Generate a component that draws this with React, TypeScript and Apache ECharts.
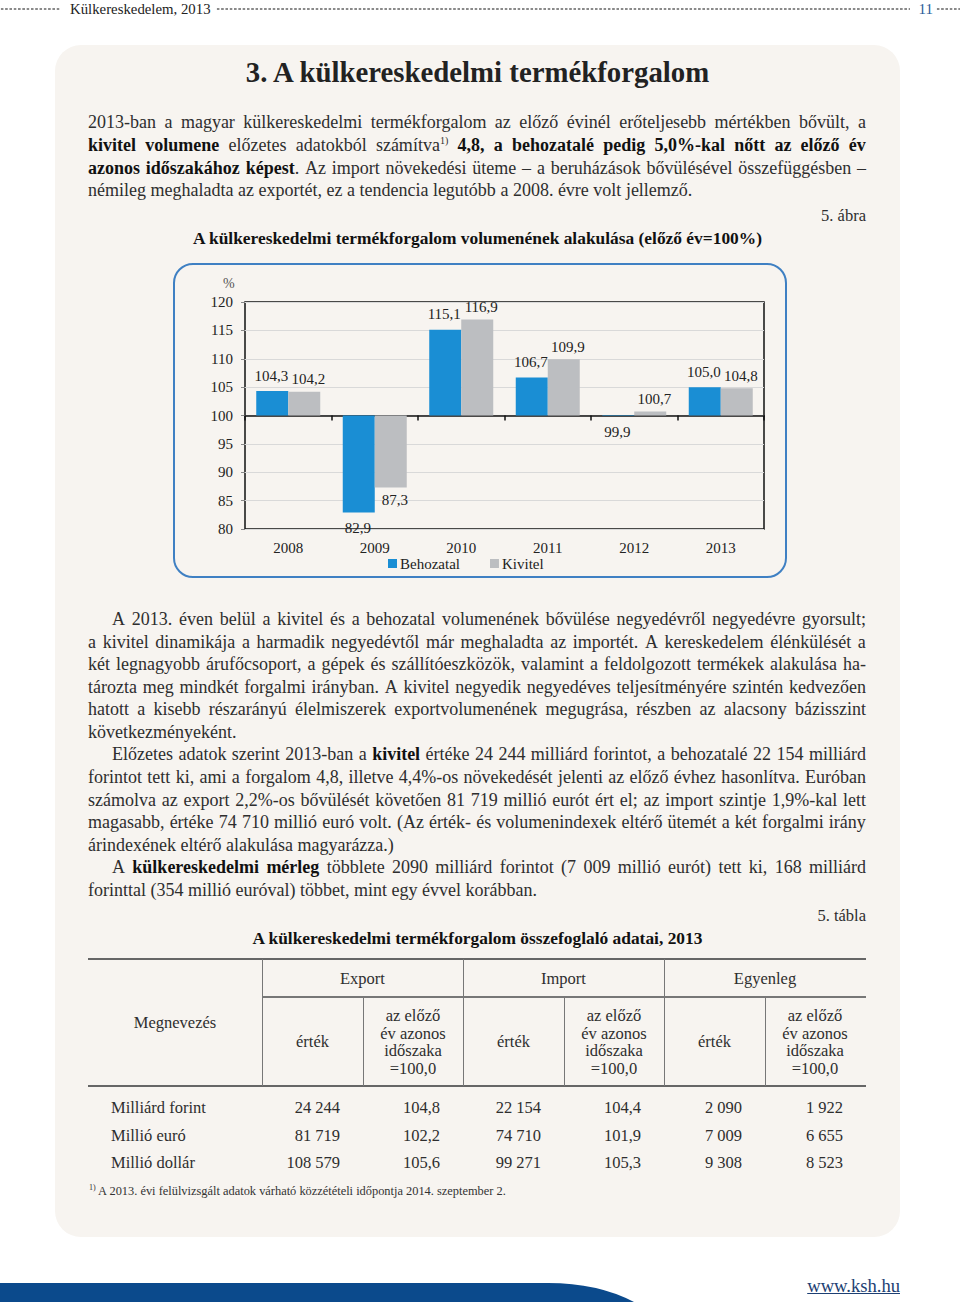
import React, { useEffect, useRef } from "react";
import * as echarts from "echarts";

// ---------- chart data ----------
const years = ["2008", "2009", "2010", "2011", "2012", "2013"];
const behozatal = [104.3, 82.9, 115.1, 106.7, 99.9, 105.0];
const kivitel = [104.2, 87.3, 116.9, 109.9, 100.7, 104.8];
const BASE = 100;
const yMin = 80;
const yMax = 120;
const yStep = 5;

// ---------- table data ----------
const rowLabels = ["Milliárd forint", "Millió euró", "Millió dollár"];
const exportValue = ["24 244", "81 719", "108 579"];
const exportIndex = ["104,8", "102,2", "105,6"];
const importValue = ["22 154", "74 710", "99 271"];
const importIndex = ["104,4", "101,9", "105,3"];
const balanceValue = ["2 090", "7 009", "9 308"];
const balanceIndex = ["1 922", "6 655", "8 523"];

const SERIF = "'Liberation Serif', 'DejaVu Serif', serif";
const TEXT = "#2e2e2e";
const FS = 18.0;
const TFS = 16.5;

const fmt = (v: number) => v.toFixed(1).replace(".", ",");

function Chart() {
  const ref = useRef<HTMLDivElement>(null);
  useEffect(() => {
    const chart = echarts.init(ref.current!, null, { renderer: "svg" });
    const mk = (arr: number[]) =>
      arr.map((v) => ({
        value: +(v - BASE).toFixed(2),
        label: { position: v < BASE ? "bottom" : "top" },
      }));
    const labelCfg = (arr: number[], dx: number, dist: number) => ({
      show: true,
      distance: dist,
      offset: [dx, 0],
      fontFamily: SERIF,
      fontSize: 15,
      color: "#222",
      formatter: (p: any) => fmt(arr[p.dataIndex]),
    });
    chart.setOption({
      animation: false,
      backgroundColor: "transparent",
      textStyle: { fontFamily: SERIF },
      grid: {
        left: 72,
        right: 23,
        top: 39,
        bottom: 49,
        show: true,
        borderColor: "#111",
        borderWidth: 1.5,
        backgroundColor: "transparent",
      },
      legend: {
        left: 210,
        top: 288,
        itemWidth: 9,
        itemHeight: 9,
        itemGap: 30,
        icon: "rect",
        textStyle: { fontFamily: SERIF, fontSize: 15, color: "#222", padding: [0, 0, 0, -2] },
        data: ["Behozatal", "Kivitel"],
      },
      graphic: [
        {
          type: "text",
          left: 50,
          top: 13,
          style: { text: "%", fontFamily: SERIF, fontSize: 14, fill: "#555" },
        },
      ],
      xAxis: [
        {
          type: "category",
          data: years,
          axisLine: { onZero: true, lineStyle: { color: "#111", width: 1.5 } },
          axisTick: { show: true, interval: 0, length: 5, lineStyle: { color: "#111", width: 1.5 } },
          axisLabel: { show: false },
        },
        {
          type: "category",
          data: years,
          position: "bottom",
          axisLine: { show: false },
          axisTick: { show: false },
          axisLabel: { fontFamily: SERIF, fontSize: 15, color: "#222", margin: 11 },
        },
      ],
      yAxis: {
        type: "value",
        min: yMin - BASE,
        max: yMax - BASE,
        interval: yStep,
        axisLine: { show: false },
        axisTick: { show: true, length: 4, lineStyle: { color: "#888" } },
        splitLine: { lineStyle: { color: "#d9d9d9", width: 1 } },
        axisLabel: {
          fontFamily: SERIF,
          fontSize: 15,
          color: "#222",
          margin: 12,
          formatter: (v: number) => String(Math.round(v + BASE)),
        },
      },
      series: [
        {
          name: "Behozatal",
          type: "bar",
          xAxisIndex: 0,
          barWidth: 32,
          barGap: "0%",
          itemStyle: { color: "#1a8ed4" },
          label: labelCfg(behozatal, -1, 8),
          data: mk(behozatal),
        },
        {
          name: "Kivitel",
          type: "bar",
          xAxisIndex: 0,
          barWidth: 32,
          barGap: "0%",
          itemStyle: { color: "#bcbec1" },
          label: labelCfg(kivitel, 4, 5),
          data: mk(kivitel),
        },
      ],
    });
    return () => chart.dispose();
  }, []);
  return (
    <div
      ref={ref}
      style={{ position: "absolute", left: 173, top: 263, width: 614, height: 315 }}
    />
  );
}

// parse "**bold**" and "^1)" superscript markers into word spans
function words(s: string) {
  let bold = false;
  const out: React.ReactNode[] = [];
  s.split(" ")
    .filter((w) => w.length > 0)
    .forEach((tok, i) => {
      const parts = tok.split("**");
      const spans: React.ReactNode[] = [];
      parts.forEach((p, j) => {
        if (j > 0) bold = !bold;
        if (!p) return;
        const [main, sup] = p.split("^");
        spans.push(
          <span key={j} style={bold ? { fontWeight: "bold", color: "#111" } : undefined}>
            {main}
            {sup !== undefined ? (
              <sup style={{ fontSize: 10, lineHeight: 0, fontWeight: "normal" }}>{sup}</sup>
            ) : null}
          </span>
        );
      });
      out.push(
        <span key={i} style={{ whiteSpace: "nowrap" }}>
          {spans}
        </span>
      );
    });
  return out;
}

type LineProps = { y: number; text: string; last?: boolean; indent?: number };
function Line({ y, text, last, indent = 0 }: LineProps) {
  const ws = words(text);
  const base: React.CSSProperties = {
    position: "absolute",
    left: 88 + indent,
    width: 778 - indent,
    top: y - 11,
    height: 22,
    lineHeight: "22px",
    fontSize: FS,
    fontFamily: SERIF,
    color: TEXT,
    whiteSpace: "nowrap",
  };
  if (last) {
    const joined: React.ReactNode[] = [];
    ws.forEach((w, i) => {
      if (i > 0) joined.push(" ");
      joined.push(w);
    });
    return <div style={base}>{joined}</div>;
  }
  return (
    <div style={{ ...base, display: "flex", justifyContent: "space-between", columnGap: 2 }}>
      {ws}
    </div>
  );
}

function Dots({ x1, x2, y }: { x1: number; x2: number; y: number }) {
  return (
    <div
      style={{
        position: "absolute",
        left: x1,
        top: y - 2,
        width: x2 - x1,
        height: 4,
        backgroundImage: "radial-gradient(circle, #8a8a8a 1px, transparent 1.4px)",
        backgroundSize: "4.3px 4px",
      }}
    />
  );
}

function T({
  x,
  y,
  w,
  align = "left",
  size = TFS,
  bold,
  children,
  color = TEXT,
}: {
  x: number;
  y: number;
  w: number;
  align?: "left" | "right" | "center";
  size?: number;
  bold?: boolean;
  children: React.ReactNode;
  color?: string;
}) {
  return (
    <div
      style={{
        position: "absolute",
        left: x,
        top: y - 12,
        width: w,
        height: 24,
        lineHeight: "24px",
        fontSize: size,
        fontFamily: SERIF,
        fontWeight: bold ? "bold" : "normal",
        color,
        textAlign: align,
        whiteSpace: "nowrap",
      }}
    >
      {children}
    </div>
  );
}

function HLine({ x1, x2, y, w = 1, color = "#777" }: { x1: number; x2: number; y: number; w?: number; color?: string }) {
  return (
    <div style={{ position: "absolute", left: x1, top: y - w / 2, width: x2 - x1, height: w, background: color }} />
  );
}
function VLine({ x, y1, y2, w = 1, color = "#777" }: { x: number; y1: number; y2: number; w?: number; color?: string }) {
  return (
    <div style={{ position: "absolute", left: x - w / 2, top: y1, width: w, height: y2 - y1, background: color }} />
  );
}

function Table() {
  const cols = [262, 363, 463, 564, 664, 765, 866];
  const groups = ["Export", "Import", "Egyenleg"];
  const valueCols = [exportValue, exportIndex, importValue, importIndex, balanceValue, balanceIndex];
  const rowsY = [1108, 1136, 1163];
  const idxLines = ["az előző", "év azonos", "időszaka", "=100,0"];
  const idxY = [1016, 1034, 1051, 1069];
  return (
    <>
      <HLine x1={88} x2={866} y={959} w={2} color="#666" />
      <HLine x1={262} x2={866} y={997} w={1.2} color="#777" />
      <HLine x1={88} x2={866} y={1086} w={2} color="#666" />
      {[262, 463, 664].map((x) => (
        <VLine key={x} x={x} y1={959} y2={1086} />
      ))}
      {[363, 564, 765].map((x) => (
        <VLine key={x} x={x} y1={997} y2={1086} />
      ))}
      {groups.map((g, i) => (
        <T key={g} x={cols[i * 2]} y={979} w={cols[i * 2 + 2] - cols[i * 2]} align="center">
          {g}
        </T>
      ))}
      <T x={88} y={1023} w={174} align="center">
        Megnevezés
      </T>
      {[0, 1, 2].map((i) => (
        <React.Fragment key={i}>
          <T x={cols[i * 2]} y={1042} w={101} align="center">
            érték
          </T>
          {idxLines.map((l, j) => (
            <div
              key={j}
              style={{
                position: "absolute",
                left: cols[i * 2 + 1],
                top: idxY[j] - 9,
                width: 100,
                height: 18,
                lineHeight: "18px",
                fontSize: TFS,
                fontFamily: SERIF,
                color: TEXT,
                textAlign: "center",
              }}
            >
              {l}
            </div>
          ))}
        </React.Fragment>
      ))}
      {rowLabels.map((r, ri) => (
        <React.Fragment key={r}>
          <T x={111} y={rowsY[ri]} w={150}>
            {r}
          </T>
          {valueCols.map((col, ci) => (
            <T key={ci} x={cols[ci]} y={rowsY[ri]} w={cols[ci + 1] - cols[ci] - 23} align="right">
              {col[ri]}
            </T>
          ))}
        </React.Fragment>
      ))}
    </>
  );
}

export default function App() {
  return (
    <div
      style={{
        position: "absolute",
        left: 0,
        top: 0,
        width: 960,
        height: 1308,
        background: "#fff",
        overflow: "hidden",
        fontFamily: SERIF,
      }}
    >
      {/* header */}
      <Dots x1={0} x2={60} y={9} />
      <T x={70} y={9} w={160} size={14.8} color="#222">
        Külkereskedelem, 2013
      </T>
      <Dots x1={216} x2={910} y={9} />
      <T x={900} y={9} w={33} size={15} align="right" color="#2a5b98">
        11
      </T>
      <Dots x1={936} x2={960} y={9} />

      {/* panel */}
      <div
        style={{
          position: "absolute",
          left: 55,
          top: 45,
          width: 845,
          height: 1192,
          background: "#f7f4f0",
          borderRadius: 26,
        }}
      />

      <T x={55} y={72} w={845} align="center" size={28.8} bold color="#222">
        3. A külkereskedelmi termékforgalom
      </T>

      <Line y={122} text="2013-ban a magyar külkereskedelmi termékforgalom az előző évinél erőteljesebb mértékben bővült, a" />
      <Line y={145} text="**kivitel volumene** előzetes adatokból számítva^1) **4,8, a behozatalé pedig 5,0%-kal nőtt az előző év**" />
      <Line y={168} text="**azonos időszakához képest**. Az import növekedési üteme – a beruházások bővülésével összefüggésben –" />
      <Line y={190} last text="némileg meghaladta az exportét, ez a tendencia legutóbb a 2008. évre volt jellemző." />

      <T x={700} y={216} w={166} align="right">
        5. ábra
      </T>
      <T x={55} y={238} w={845} align="center" bold size={17.4} color="#111">
        A külkereskedelmi termékforgalom volumenének alakulása (előző év=100%)
      </T>

      {/* chart frame */}
      <div
        style={{
          position: "absolute",
          left: 173,
          top: 263,
          width: 614,
          height: 315,
          boxSizing: "border-box",
          border: "2px solid #3f80c3",
          borderRadius: 20,
        }}
      />
      <Chart />

      <Line y={619} indent={24} text="A 2013. éven belül a kivitel és a behozatal volumenének bővülése negyedévről negyedévre gyorsult;" />
      <Line y={642} text="a kivitel dinamikája a harmadik negyedévtől már meghaladta az importét. A kereskedelem élénkülését a" />
      <Line y={664} text="két legnagyobb árufőcsoport, a gépek és szállítóeszközök, valamint a feldolgozott termékek alakulása ha-" />
      <Line y={687} text="tározta meg mindkét forgalmi irányban. A kivitel negyedik negyedéves teljesítményére szintén kedvezően" />
      <Line y={709} text="hatott a kisebb részarányú élelmiszerek exportvolumenének megugrása, részben az alacsony bázisszint" />
      <Line y={732} last text="következményeként." />
      <Line y={754} indent={24} text="Előzetes adatok szerint 2013-ban a **kivitel** értéke 24 244 milliárd forintot, a behozatalé 22 154 milliárd" />
      <Line y={777} text="forintot tett ki, ami a forgalom 4,8, illetve 4,4%-os növekedését jelenti az előző évhez hasonlítva. Euróban" />
      <Line y={800} text="számolva az export 2,2%-os bővülését követően 81 719 millió eurót ért el; az import szintje 1,9%-kal lett" />
      <Line y={822} text="magasabb, értéke 74 710 millió euró volt. (Az érték- és volumenindexek eltérő ütemét a két forgalmi irány" />
      <Line y={845} last text="árindexének eltérő alakulása magyarázza.)" />
      <Line y={867} indent={24} text="A **külkereskedelmi mérleg** többlete 2090 milliárd forintot (7 009 millió eurót) tett ki, 168 milliárd" />
      <Line y={890} last text="forinttal (354 millió euróval) többet, mint egy évvel korábban." />

      <T x={700} y={916} w={166} align="right">
        5. tábla
      </T>
      <T x={55} y={938} w={845} align="center" bold size={17.4} color="#111">
        A külkereskedelmi termékforgalom összefoglaló adatai, 2013
      </T>

      <Table />

      <T x={89} y={1191} w={520} size={12.4} color="#333">
        <sup style={{ fontSize: 8, lineHeight: 0 }}>1)</sup> A 2013. évi felülvizsgált adatok várható közzétételi időpontja 2014. szeptember 2.
      </T>

      {/* footer */}
      <svg
        width={960}
        height={30}
        style={{ position: "absolute", left: 0, top: 1278 }}
      >
        <path d="M0 5 L548 5 Q598 5 634 24 L0 24 Z" fill="#0b4a8c" />
      </svg>
      <div
        style={{
          position: "absolute",
          left: 780,
          top: 1275,
          width: 120,
          textAlign: "right",
          fontFamily: SERIF,
          fontSize: 18.6,
          color: "#1d3f73",
          textDecoration: "underline",
          lineHeight: "22px",
        }}
      >
        www.ksh.hu
      </div>
    </div>
  );
}
